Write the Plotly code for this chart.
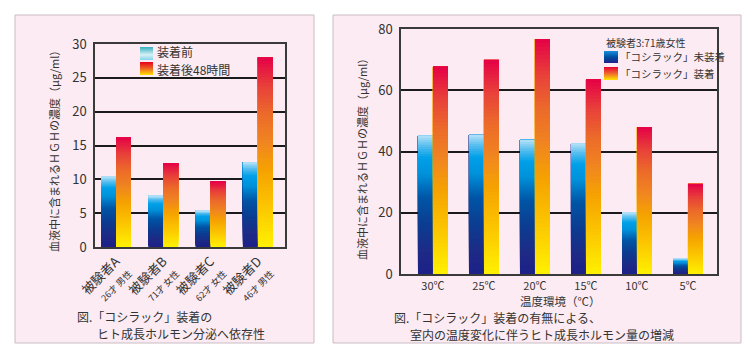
import plotly.graph_objects as go

# ---------------- data ----------------
subjects = ["被験者A", "被験者B", "被験者C", "被験者D"]
subject_info = ["26才 男性", "71才 女性", "62才 女性", "46才 男性"]
before = [10.4, 7.6, 5.4, 12.5]
after48 = [16.2, 12.4, 9.7, 28.0]

temps = ["30℃", "25℃", "20℃", "15℃", "10℃", "5℃"]
not_worn = [45.2, 45.4, 43.8, 42.7, 20.0, 5.1]
worn = [67.7, 69.9, 76.7, 63.6, 48.0, 29.4]

W, H = 750, 353
FONT = "Noto Sans CJK JP"
TXT = "#333333"
PINK = "#fcebf2"

BLUE_STOPS = [(0.0, "#1d2088"), (0.15, "#1e2a86"), (0.35, "#0c3c90"), (0.55, "#0055a6"),
              (0.72, "#0091da"), (0.84, "#00a0e9"), (0.93, "#5cc0ef"), (1.0, "#b8e2f8")]
RED_STOPS = [(0.0, "#fff100"), (0.2, "#fcc800"), (0.4, "#f6a300"), (0.55, "#f08620"),
             (0.7, "#ec6a2a"), (0.85, "#e8403a"), (1.0, "#e50046")]
LEG1_STOPS = [(0.0, "#86d3ea"), (0.4, "#d6f1f5"), (1.0, "#36aebf")]
LEG2_STOPS = [(0.0, "#ffe000"), (0.45, "#ef7020"), (1.0, "#e60020")]
LEG3_STOPS = [(0.0, "#1d2088"), (0.5, "#0050a0"), (1.0, "#1a8ee0")]
LEG4_STOPS = [(0.0, "#ffe800"), (0.5, "#ef6a2a"), (1.0, "#e60033")]


def hex2rgb(h):
    h = h.lstrip("#")
    return [int(h[i:i + 2], 16) for i in (0, 2, 4)]


def interp(stops, t):
    for (t0, c0), (t1, c1) in zip(stops[:-1], stops[1:]):
        if t0 <= t <= t1:
            f = 0 if t1 == t0 else (t - t0) / (t1 - t0)
            a, b = hex2rgb(c0), hex2rgb(c1)
            r = [round(a[k] + (b[k] - a[k]) * f) for k in range(3)]
            return "rgb(%d,%d,%d)" % tuple(r)
    return stops[-1][1]


fig = go.Figure()
N = 60


def gradient_bars(x, vals, stops, xa, ya, width, offset):
    # each layer spans from its base to the bar's top; later layers cover earlier ones
    for i in range(N):
        t = (i + 0.5) / N
        fig.add_trace(go.Bar(
            x=x, y=[v * (N - i) / N for v in vals], base=[v * i / N for v in vals],
            width=width, offset=offset,
            marker=dict(color=interp(stops, t), line=dict(width=0)),
            xaxis=xa, yaxis=ya, showlegend=False, hoverinfo="skip"))


w1 = 0.317
gradient_bars(subjects, before, BLUE_STOPS, "x", "y", w1, -w1)
gradient_bars(subjects, after48, RED_STOPS, "x", "y", w1, 0)
w2 = 0.294
gradient_bars(temps, not_worn, BLUE_STOPS, "x2", "y2", w2, -w2)
gradient_bars(temps, worn, RED_STOPS, "x2", "y2", w2, 0)


def px(x):
    return x / W


def py(y):
    return 1 - y / H


shapes = []
# panels
for x0, x1 in [(15, 314), (333, 741)]:
    shapes.append(dict(type="rect", xref="paper", yref="paper", x0=px(x0), x1=px(x1),
                       y0=py(343), y1=py(15), fillcolor=PINK,
                       line=dict(color="#c9bcc4", width=1), layer="below"))


def swatch(x0, y0, x1, y1, stops):
    h = y1 - y0
    for k in range(h):
        t = 1 - (k + 0.5) / h
        shapes.append(dict(type="rect", xref="paper", yref="paper",
                           x0=px(x0), x1=px(x1), y0=py(y0 + k + 1), y1=py(y0 + k),
                           fillcolor=interp(stops, t), line=dict(width=0), layer="above"))


swatch(140, 47, 153, 60, LEG1_STOPS)
swatch(140, 62, 153, 75, LEG2_STOPS)
swatch(604, 51, 618, 63, LEG3_STOPS)
swatch(604, 67, 618, 80, LEG4_STOPS)

ann = []


def text(x, y, s, size, xanchor="left", angle=0, align="left"):
    ann.append(dict(x=px(x), y=py(y), xref="paper", yref="paper", text=s, showarrow=False,
                    xanchor=xanchor, yanchor="middle", textangle=angle, align=align,
                    font=dict(family=FONT, size=size, color=TXT)))


text(155, 52, "装着前", 12)
text(155, 69.6, "装着後48時間", 12)
text(604, 42.5, "被験者3:71歳女性", 10)
text(618, 57, "「コシラック」未装着", 10.5)
text(618, 73.5, "「コシラック」装着", 10.5)
ytitle = "血液中に含まれるＨＧＨの濃度（μg/ml）"
text(54, 148, ytitle, 11, xanchor="center", angle=-90)
text(362, 157, ytitle, 11, xanchor="center", angle=-90)
text(560, 301, "温度環境（℃）", 11.5, xanchor="center")
text(75, 316, "図.「コシラック」装着の", 12)
text(95, 333.6, "ヒト成長ホルモン分泌へ依存性", 12)
text(392, 317, "図.「コシラック」装着の有無による、", 12)
text(408, 334.6, "室内の温度変化に伴うヒト成長ホルモン量の増減", 12)

ticktext1 = ["%s<br><span style='font-size:9px'>%s</span>" % (s, i) for s, i in zip(subjects, subject_info)]

line_common = dict(showline=True, mirror=True, linecolor="#3a3a3a", linewidth=1.5,
                   ticks="", automargin=False)

fig.update_layout(
    template="none",
    width=W, height=H, margin=dict(l=0, r=0, t=0, b=0, autoexpand=False),
    paper_bgcolor="white", plot_bgcolor="rgba(0,0,0,0)",
    barmode="overlay", showlegend=False,
    shapes=shapes, annotations=ann,
    xaxis=dict(domain=[px(95), px(285)], anchor="y", type="category",
               range=[-0.444, 3.573], tickvals=subjects, ticktext=ticktext1,
               tickangle=-45, showgrid=False, **line_common,
               tickfont=dict(family=FONT, size=13, color=TXT)),
    yaxis=dict(domain=[py(247), py(44)], anchor="x", range=[0, 30], dtick=5,
               showgrid=True, gridcolor="#1a1a1a", gridwidth=1.5, zeroline=False,
               ticklabelstandoff=4, **line_common,
               tickfont=dict(family=FONT, size=13, color=TXT)),
    xaxis2=dict(domain=[px(401), px(717)], anchor="y2", type="category",
                range=[-0.627, 5.569], showgrid=False, **line_common,
                ticklabelstandoff=1,
                tickfont=dict(family=FONT, size=11, color=TXT)),
    yaxis2=dict(domain=[py(274), py(29)], anchor="x2", range=[0, 80], dtick=20,
                showgrid=True, gridcolor="#1a1a1a", gridwidth=1.5, zeroline=False,
                ticklabelstandoff=4, **line_common,
                tickfont=dict(family=FONT, size=13, color=TXT)),
)

fig.write_html("out.html")
